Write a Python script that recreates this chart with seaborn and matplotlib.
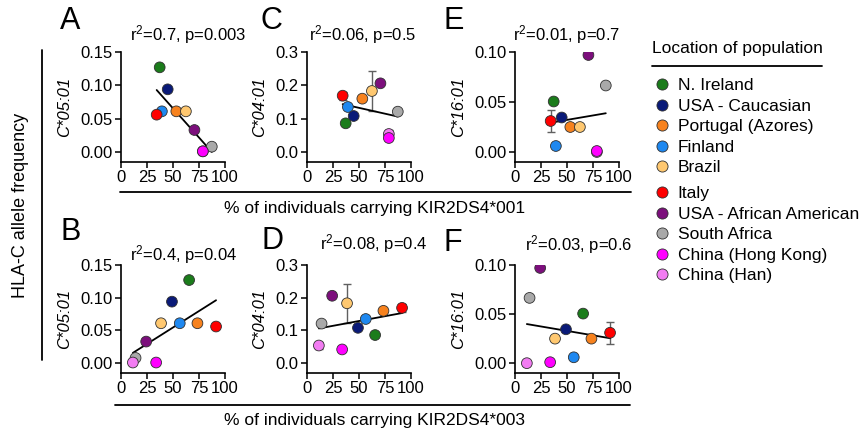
import numpy as np
import pandas as pd
import seaborn as sns
import matplotlib.pyplot as plt
from matplotlib.lines import Line2D

# populations in legend order
populations = ['N. Ireland', 'USA - Caucasian', 'Portugal (Azores)', 'Finland', 'Brazil',
               'Italy', 'USA - African American', 'South Africa', 'China (Hong Kong)', 'China (Han)']
colors = ['#1b7c1b', '#0a1a78', '#f7821e', '#1e88f0', '#ffc870',
          '#ff0000', '#7c0f7c', '#a9a9a9', '#ff00ff', '#f27cf2']

# % of individuals carrying KIR2DS4*001 / *003
kir001 = [37.2, 44.9, 53.2, 39.3, 62.4, 34.3, 70.6, 87.3, 78.7, 78.7]
kir003 = [65.5, 49.0, 73.5, 56.5, 38.5, 91.4, 24.2, 14.0, 33.8, 11.4]

# HLA-C allele frequencies
c0501 = [0.127, 0.094, 0.061, 0.061, 0.061, 0.056, 0.033, 0.008, 0.001, 0.001]
c0401 = [0.086, 0.108, 0.160, 0.135, 0.183, 0.169, 0.206, 0.121, 0.042, 0.054]
c1601 = [0.0505, 0.0345, 0.025, 0.006, 0.025, 0.031, 0.097, 0.0665, 0.001, 0.0]

sd0501 = [0, 0, 0, 0, 0, 0, 0, 0, 0, 0]
sd0401 = [0, 0, 0, 0, 0.06, 0.012, 0, 0, 0, 0.012]
sd1601 = [0, 0, 0, 0, 0, 0.011, 0, 0, 0, 0]

panel_letters = ['A', 'C', 'E', 'B', 'D', 'F']
panel_stats = ['r$^2$=0.7, p=0.003', 'r$^2$=0.06, p=0.5', 'r$^2$=0.01, p=0.7',
               'r$^2$=0.4, p=0.04', 'r$^2$=0.08, p=0.4', 'r$^2$=0.03, p=0.6']
allele_names = ['C*05:01', 'C*04:01', 'C*16:01']
y_tops = [0.15, 0.3, 0.10]
y_ticks = [[0, 0.05, 0.10, 0.15], [0, 0.1, 0.2, 0.3], [0, 0.05, 0.10]]
y_fmt = ['{:.2f}', '{:.1f}', '{:.2f}']
x_ticks = [0, 25, 50, 75, 100]

sns.set_style('ticks')
plt.rcParams['font.family'] = ['Liberation Sans', 'DejaVu Sans']
plt.rcParams['mathtext.fontset'] = 'custom'
plt.rcParams['mathtext.rm'] = 'Liberation Sans'
plt.rcParams['mathtext.it'] = 'Liberation Sans:italic'
plt.rcParams['text.color'] = 'black'
plt.rcParams['axes.labelcolor'] = 'black'

pal = dict(zip(populations, colors))
# draw order: Han before Hong Kong (HK sits on top)
order = [0, 1, 2, 3, 4, 5, 6, 7, 9, 8]

W, H = 867, 430
fig = plt.figure(figsize=(W / 100, H / 100), dpi=100)

col_left = [121, 307, 515]
row_bottom = [162, 373]
row_height = [110, 108]
stat_x = [0.65, 0.53, 0.50, 0.60, 0.64, 0.61]
stat_y = [1.155, 1.155, 1.16, 1.10, 1.20, 1.19]
letter_pos = [(60, 6), (261, 6), (444, 6), (60, 217), (261, 226), (443, 228)]

allele_vals = [c0501, c0401, c1601]
allele_sd = [sd0501, sd0401, sd1601]
kir_vals = [kir001, kir003]

k = 0
for r in range(2):
    for c in range(3):
        ax = fig.add_axes([col_left[c] / W, 1 - row_bottom[r] / H, 104 / W, row_height[r] / H])
        df = pd.DataFrame({'population': populations, 'x': kir_vals[r], 'y': allele_vals[c],
                           'sd': allele_sd[c]}).iloc[order]
        e = df[df['sd'] > 0]
        ax.errorbar(e['x'], e['y'], yerr=e['sd'], fmt='none', ecolor='#606060',
                    elinewidth=1, capsize=3, capthick=1, zorder=2)
        sns.regplot(data=df, x='x', y='y', scatter=False, ci=None, color='black',
                    line_kws={'lw': 1.3, 'zorder': 2.5}, ax=ax)
        sns.scatterplot(data=df, x='x', y='y', hue='population', palette=pal, s=60,
                        edgecolor='#303030', linewidth=0.6, legend=False, zorder=3, ax=ax)
        ax.set_xlim(0, 100)
        ax.set_ylim(-0.1 * y_tops[c], y_tops[c])
        ax.set_xticks(x_ticks)
        ax.set_xticklabels([str(t) for t in x_ticks])
        ax.set_yticks(y_ticks[c])
        ax.set_yticklabels([y_fmt[c].format(t) for t in y_ticks[c]])
        ax.tick_params(labelsize=12, length=4, width=1.1, pad=2, colors='black')
        for s in ['left', 'bottom']:
            ax.spines[s].set_linewidth(1.2)
            ax.spines[s].set_color('black')
        sns.despine(ax=ax)
        ax.set_xlabel('')
        ax.set_ylabel(allele_names[c], fontsize=12, style='italic', labelpad=6)
        ax.text(stat_x[k], stat_y[k], panel_stats[k], transform=ax.transAxes,
                ha='center', va='center', fontsize=12)
        lx, ly = letter_pos[k]
        fig.text(lx / W, 1 - ly / H, panel_letters[k], fontsize=22, ha='left', va='top')
        k += 1

# shared axis labels and bracket lines
fig.add_artist(Line2D([120 / W, 631 / W], [1 - 192 / H] * 2, color='black', lw=1.3))
fig.text(375 / W, 1 - 209 / H, '% of individuals carrying KIR2DS4*001', ha='center', va='center', fontsize=12.5)
fig.add_artist(Line2D([115 / W, 630 / W], [1 - 405 / H] * 2, color='black', lw=1.3))
fig.text(375 / W, 1 - 421 / H, '% of individuals carrying KIR2DS4*003', ha='center', va='center', fontsize=12.5)
fig.add_artist(Line2D([42 / W] * 2, [1 - 50 / H, 1 - 360 / H], color='black', lw=1.3))
fig.text(21 / W, 1 - 205 / H, 'HLA-C allele frequency', rotation=90, ha='center', va='center', fontsize=13)

# legend
fig.text(652 / W, 1 - 49 / H, 'Location of population', ha='left', va='center', fontsize=12.5)
fig.add_artist(Line2D([652 / W, 822 / W], [1 - 66 / H] * 2, color='black', lw=1.3))
handles = [Line2D([], [], marker='o', ls='', markerfacecolor=col, markeredgecolor='#303030',
                  markeredgewidth=0.6, markersize=8, label=p) for p, col in zip(populations, colors)]
for grp, top in [(handles[:5], 78), (handles[5:], 186)]:
    fig.legend(handles=grp, loc='upper left', bbox_to_anchor=(655 / W, 1 - top / H),
               frameon=False, fontsize=12.5, handlelength=0.8, handletextpad=0.5,
               labelspacing=0.31, borderpad=0, borderaxespad=0)

fig.savefig('out.png', dpi=100)
